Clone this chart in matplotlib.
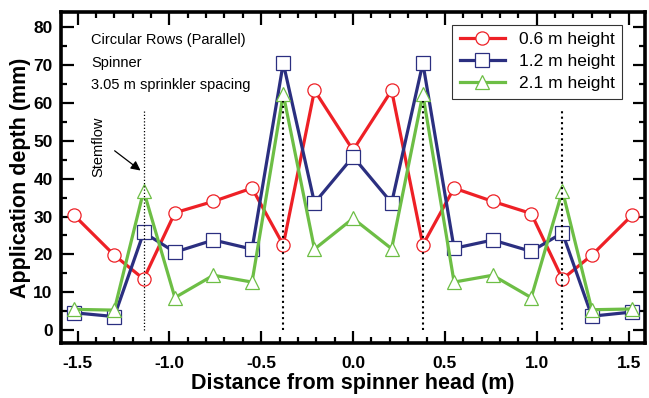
import matplotlib
matplotlib.use("Agg")
import matplotlib.pyplot as plt
from matplotlib.ticker import MultipleLocator

plt.rcParams['font.family'] = ['Liberation Sans', 'DejaVu Sans']

distance = [-1.52, -1.30, -1.14, -0.97, -0.76, -0.55, -0.38, -0.21, 0.0,
            0.21, 0.38, 0.55, 0.76, 0.97, 1.14, 1.30, 1.52]
h06 = [30.4, 19.8, 13.5, 31.0, 34.0, 37.5, 22.5, 63.3, 47.5,
       63.3, 22.5, 37.5, 34.0, 30.8, 13.5, 19.8, 30.4]
h12 = [4.6, 3.6, 25.8, 20.6, 23.8, 21.4, 70.5, 33.6, 45.8,
       33.6, 70.5, 21.6, 23.8, 20.8, 25.7, 3.7, 4.8]
h21 = [5.5, 5.3, 36.8, 8.6, 14.5, 12.7, 62.3, 21.4, 29.5,
       21.5, 62.3, 12.7, 14.5, 8.6, 36.8, 5.4, 5.6]
labels = ['0.6 m height', '1.2 m height', '2.1 m height']
stem_x = [-1.14, -0.38, 0.38, 1.14]
stem_top = [58.5, 60.5, 60.5, 58.5]
notes = ['Circular Rows (Parallel)', 'Spinner', '3.05 m sprinkler spacing']

red = '#EE2026'
navy = '#2B2F80'
green = '#6DBE45'

fig = plt.figure(figsize=(6.49, 3.98), dpi=100)
ax = fig.add_axes([0.094, 0.138, 0.9, 0.832])

kw = dict(lw=2.3, ms=9.5, mfc='white', mew=0.9)
ax.plot(distance, h06, '-o', color=red, mec=red, label=labels[0], **kw)
ax.plot(distance, h12, '-s', color=navy, mec=navy, label=labels[1], **kw)
ax.plot(distance, h21, '-^', color=green, mec=green, label=labels[2], **kw)

for i, (sx, st) in enumerate(zip(stem_x, stem_top)):
    ax.plot([sx, sx], [0, st], color='black',
            lw=0.9 if i == 0 else 1.5, ls=(0, (1, 1.6)), zorder=5)

ax.set_xlim(-1.59, 1.59)
ax.set_ylim(-3.4, 84)
ax.xaxis.set_major_locator(MultipleLocator(0.5))
ax.xaxis.set_minor_locator(MultipleLocator(0.1))
ax.yaxis.set_major_locator(MultipleLocator(10))
ax.yaxis.set_minor_locator(MultipleLocator(5))
ax.xaxis.set_major_formatter(matplotlib.ticker.FormatStrFormatter('%.1f'))
ax.tick_params(which='both', direction='in', top=True, right=True,
               labelright=False, labeltop=False, width=1.6, color='black')
ax.tick_params(which='major', length=9, labelsize=12.5)
ax.tick_params(axis='x', which='major', pad=9)
ax.tick_params(axis='y', which='major', pad=6)
ax.tick_params(which='minor', length=4.5)
for lab in ax.get_xticklabels() + ax.get_yticklabels():
    lab.set_fontweight('bold')
for sp in ax.spines.values():
    sp.set_linewidth(2.6)

ax.set_xlabel('Distance from spinner head (m)', fontsize=15.5,
              fontweight='bold')
ax.set_ylabel('Application depth (mm)', fontsize=15.5, fontweight='bold')
ax.xaxis.set_label_coords(0.5, -0.09)
ax.yaxis.set_label_coords(-0.052, 0.5)

ys = [76.7, 70.6, 64.8]
for t, y in zip(notes, ys):
    ax.text(-1.425, y, t, fontsize=10.5, va='center', ha='left')

ax.text(-1.385, 48.5, 'Stemflow', rotation=90, fontsize=10.5,
        va='center', ha='center')
ax.annotate('', xy=(-1.145, 41.7), xytext=(-1.31, 47.8),
            arrowprops=dict(arrowstyle='-|>', color='black', lw=0.9,
                            mutation_scale=14))

leg = ax.legend(loc='upper right', bbox_to_anchor=(0.961, 0.962),
                fontsize=12.5, frameon=True, fancybox=False,
                edgecolor='black', handlelength=2.6, borderpad=0.45,
                labelspacing=0.38, handletextpad=0.8, borderaxespad=0)
leg.get_frame().set_linewidth(0.8)

fig.savefig('out.png', dpi=100)
